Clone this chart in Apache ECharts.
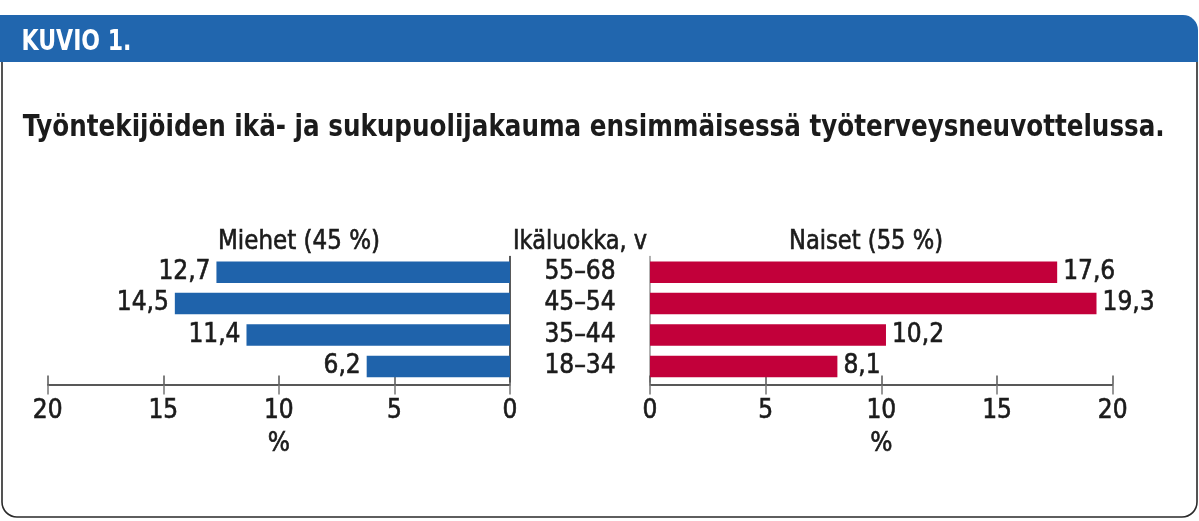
<!DOCTYPE html>
<html>
<head>
<meta charset="utf-8">
<script src="https://cdn.jsdelivr.net/npm/echarts@6/dist/echarts.min.js"></script>
<style>
html,body{margin:0;padding:0;background:#fff;}
#c{width:1199px;height:521px;}
</style>
</head>
<body>
<div id="c"></div>
<script>
// ---- data ----
var categories = ['55–68', '45–54', '35–44', '18–34'];
var men = [12.7, 14.5, 11.4, 6.2];
var women = [17.6, 19.3, 10.2, 8.1];
var xTicks = [0, 5, 10, 15, 20];
var figureLabel = 'KUVIO 1.';
var chartTitle = 'Työntekijöiden ikä- ja sukupuolijakauma ensimmäisessä työterveysneuvottelussa.';
var menTitle = 'Miehet (45 %)';
var womenTitle = 'Naiset (55 %)';
var catTitle = 'Ikäluokka, v';
var unitName = '%';

var FONT = "'Liberation Sans Narrow','DejaVu Sans Condensed','Liberation Sans',sans-serif";
var TXT = '#1b1b1b';
var BLUE = '#1f63ab';
var RED = '#c2003a';
var FS = 26;
var SW = 0.6; // slight stroke to mimic the medium weight

function fmt(v){ return v.toFixed(1).replace('.', ','); }

var mctx = document.createElement('canvas').getContext('2d');
function textW(text, font){ mctx.font = font; return mctx.measureText(text).width; }
// text element squeezed horizontally to a target width (layout only)
function fitText(text, font, x, y, targetW, align, fill, sw){
  var w = textW(text, font);
  var s = targetW / w;
  var st = {text:text, fill:fill, font:font, textAlign:align, textVerticalAlign:'middle'};
  if (sw) { st.stroke = fill; st.lineWidth = sw; }
  return {type:'text', x:x, y:y, scaleX:s, scaleY:1, style:st};
}

var chart = echarts.init(document.getElementById('c'), null, {renderer:'canvas'});

var gridTop = 256.5, gridH = 125.6, axisOff = 2.3;
var xMin = xTicks[0], xMax = xTicks[xTicks.length-1], xInt = xTicks[1]-xTicks[0];

var txtStyle = {fontFamily:FONT, fontSize:FS, color:TXT, textBorderColor:TXT, textBorderWidth:SW};

function xAxisMain(gi, inverse){
  return {
    type:'value', gridIndex:gi, min:xMin, max:xMax, interval:xInt, inverse:inverse,
    offset:axisOff,
    name:unitName, nameLocation:'middle', nameGap:47,
    nameTextStyle:txtStyle,
    axisLine:{show:true, lineStyle:{color:'#222', width:1.5}},
    axisTick:{show:true, inside:false, length:10, lineStyle:{color:'#777', width:1.5}},
    axisLabel:Object.assign({show:true, margin:14,
      formatter:function(v){return String(v);}}, txtStyle),
    splitLine:{show:false}
  };
}
function xAxisTicksUp(gi, inverse){
  return {
    type:'value', gridIndex:gi, min:xMin, max:xMax, interval:xInt, inverse:inverse,
    offset:axisOff, position:'bottom',
    axisLine:{show:false},
    axisTick:{show:true, inside:true, length:9, lineStyle:{color:'#555', width:1.5}},
    axisLabel:{show:false}, splitLine:{show:false}
  };
}

var option = {
  backgroundColor:'#fff',
  animation:false,
  grid:[
    {left:47.7, width:462.3, top:gridTop, height:gridH, containLabel:false},
    {left:650, width:462.7, top:gridTop, height:gridH, containLabel:false}
  ],
  xAxis:[
    xAxisMain(0, true), xAxisMain(1, false),
    xAxisTicksUp(0, true), xAxisTicksUp(1, false)
  ],
  yAxis:[
    {type:'category', gridIndex:0, data:categories, inverse:true, position:'right',
      axisLine:{show:true, lineStyle:{color:'#222', width:1.5}},
      axisTick:{show:false}, axisLabel:{show:false}},
    {type:'category', gridIndex:1, data:categories, inverse:true, position:'left',
      axisLine:{show:true, lineStyle:{color:'#999', width:1.5}},
      axisTick:{show:false},
      axisLabel:Object.assign({show:true, interval:0, margin:70, align:'center'}, txtStyle)}
  ],
  series:[
    {type:'bar', xAxisIndex:0, yAxisIndex:0, data:men, barWidth:21.5,
      itemStyle:{color:BLUE},
      label:Object.assign({show:true, position:'left', distance:6,
        formatter:function(p){return fmt(p.value);}}, txtStyle)},
    {type:'bar', xAxisIndex:1, yAxisIndex:1, data:women, barWidth:21.5,
      itemStyle:{color:RED},
      label:Object.assign({show:true, position:'right', distance:6,
        formatter:function(p){return fmt(p.value);}}, txtStyle)}
  ],
  graphic:[
    {type:'rect', z:-2, shape:{x:2, y:40, width:1195, height:477, r:[0,0,15,15]},
      style:{fill:'rgba(0,0,0,0)', stroke:'#2a2a2a', lineWidth:1.6}},
    {type:'rect', z:-1, shape:{x:0, y:15, width:1198, height:47, r:[0,15,0,0]}, style:{fill:'#2166ae'}},
    fitText(figureLabel, 'bold 29px '+FONT, 21.5, 42.5, 110, 'left', '#fff'),
    fitText(chartTitle, 'bold 31px '+FONT, 22.7, 128, 1142, 'left', TXT),
    fitText(menTitle, FS+'px '+FONT, 299, 242, 162, 'center', TXT, SW),
    fitText(catTitle, FS+'px '+FONT, 580, 242, 134, 'center', TXT, SW),
    fitText(womenTitle, FS+'px '+FONT, 866, 242, 154, 'center', TXT, SW)
  ]
};
chart.setOption(option);
</script>
</body>
</html>
